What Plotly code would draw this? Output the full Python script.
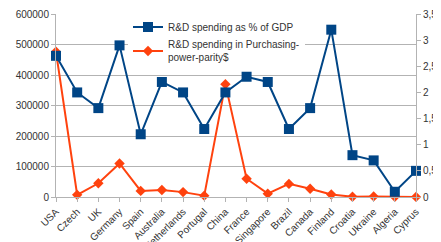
import plotly.graph_objects as go

countries = ["USA", "Czech", "UK", "Germany", "Spain", "Australia", "Netherlands", "Portugal",
             "China", "France", "Singapore", "Brazil", "Canada", "Finland", "Croatia", "Ukraine",
             "Algeria", "Cyprus"]
gdp_pct = [2.7, 2.0, 1.7, 2.9, 1.2, 2.2, 2.0, 1.3, 2.0, 2.3, 2.2, 1.3, 1.7, 3.2, 0.8, 0.7, 0.1, 0.5]
ppp = [476000, 7000, 45000, 110000, 20000, 23000, 16000, 4500, 370000, 60000, 11000, 43000,
       27000, 8000, 1000, 2000, 500, 300]

left_ticks = [0, 100000, 200000, 300000, 400000, 500000, 600000]
left_labels = ["0", "100000", "200000", "300000", "400000", "500000", "600000"]
right_ticks = [0, 0.5, 1, 1.5, 2, 2.5, 3, 3.5]
right_labels = ["0", "0,5", "1", "1,5", "2", "2,5", "3", "3,5"]

blue = "#004586"
orange = "#ff420e"
grid = "#b3b3b3"
font = "Liberation Sans"

fig = go.Figure()
fig.add_trace(go.Scatter(
    x=countries, y=gdp_pct, name="R&D spending as % of GDP", yaxis="y2",
    mode="lines+markers", line=dict(color=blue, width=2),
    marker=dict(symbol="square", size=10, color=blue), cliponaxis=False))
fig.add_trace(go.Scatter(
    x=countries, y=ppp, name="R&D spending in Purchasing-<br>power-parity$",
    mode="lines+markers", line=dict(color=orange, width=2),
    marker=dict(symbol="diamond", size=8, color=orange), cliponaxis=False))

fig.update_layout(
    width=441, height=242,
    margin=dict(l=48, r=33, t=6, b=53, autoexpand=False),
    paper_bgcolor="white", plot_bgcolor="white",
    font=dict(family=font, size=10, color="#333333"),
    showlegend=True,
    legend=dict(x=0.2, y=1.008, xanchor="left", yanchor="top", bgcolor="white",
                font=dict(size=10, color="#333333"), tracegroupgap=0,
                itemwidth=30),
    xaxis=dict(range=[0, 17], tickangle=-45, showgrid=False, showline=True, linecolor=grid,
               linewidth=1, ticks="outside", ticklen=4, tickcolor=grid, automargin=False,
               tickfont=dict(size=10, color="#333333"), fixedrange=True),
    yaxis=dict(range=[0, 600000], tickvals=left_ticks, ticktext=left_labels, showgrid=True,
               gridcolor=grid, showline=True, linecolor=grid, ticks="outside", ticklen=4,
               tickcolor=grid, zeroline=False, automargin=False,
               tickfont=dict(size=10, color="#333333")),
    yaxis2=dict(range=[0, 3.5], tickvals=right_ticks, ticktext=right_labels, overlaying="y",
                side="right", showgrid=False, showline=True, linecolor=grid, ticks="outside",
                ticklen=4, tickcolor=grid, zeroline=False, automargin=False,
                tickfont=dict(size=10, color="#333333")),
)

fig.write_html("out.html")
